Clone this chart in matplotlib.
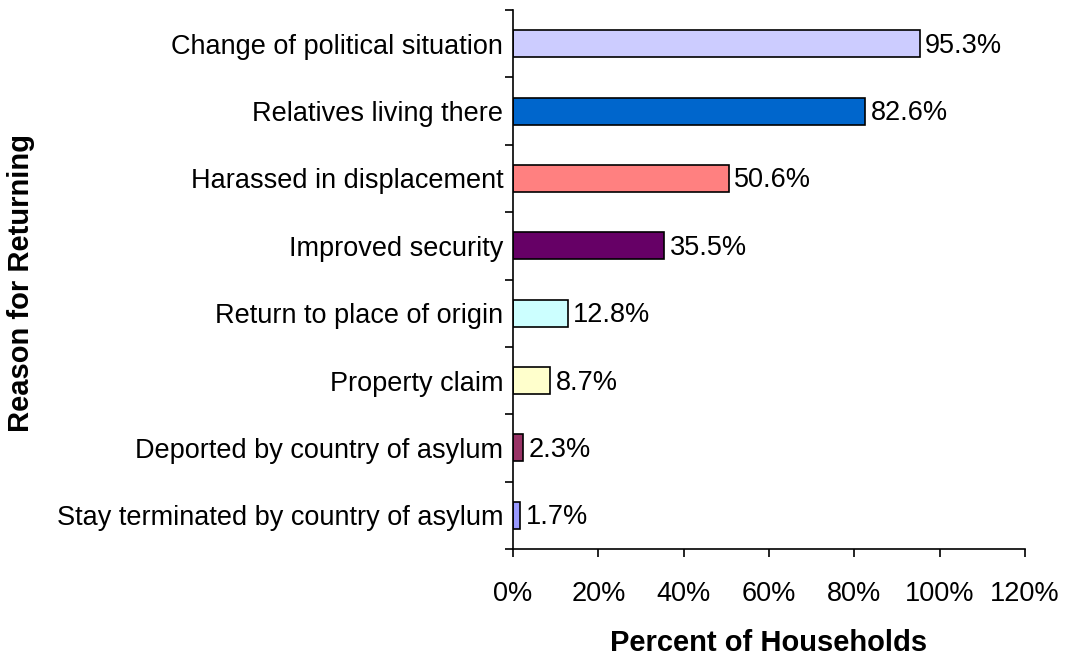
import numpy as np
import matplotlib.pyplot as plt

plt.rcParams['font.family'] = ['Liberation Sans', 'DejaVu Sans']

reasons = [
    "Change of political situation",
    "Relatives living there",
    "Harassed in displacement",
    "Improved security",
    "Return to place of origin",
    "Property claim",
    "Deported by country of asylum",
    "Stay terminated by country of asylum",
]
percents = [95.3, 82.6, 50.6, 35.5, 12.8, 8.7, 2.3, 1.7]
colors = ["#CCCCFF", "#0066CC", "#FF8080", "#660066",
          "#CCFFFF", "#FFFFCC", "#993366", "#9999FF"]
xticks = [0, 20, 40, 60, 80, 100, 120]

fig = plt.figure(figsize=(10.67, 6.59), dpi=100)
ax = fig.add_axes([513 / 1067, 1 - 549 / 659, (1025 - 513) / 1067, (549 - 10) / 659])

y = np.arange(len(reasons))[::-1]
ax.barh(y, percents, height=0.4, color=colors, edgecolor="black", linewidth=1.2)

for yi, v in zip(y, percents):
    ax.text(v + 1.3, yi - 0.03, f"{v:.1f}%", va="center", ha="left", fontsize=19.5)

ax.set_xlim(0, 120)
ax.set_ylim(-0.5, len(reasons) - 0.5)
ax.set_xticks(xticks)
ax.set_xticklabels([f"{t}%" for t in xticks], fontsize=19.5)
ax.set_yticks(y)
ax.set_yticklabels(reasons, fontsize=19.5)
ax.tick_params(axis="y", length=0, pad=7)
ax.set_yticks(np.arange(-0.5, len(reasons)), minor=True)
ax.tick_params(axis="y", which="minor", length=6, width=1.2, direction="out")
ax.tick_params(axis="x", length=6, width=1.2, direction="out", pad=17)

for s in ["top", "right"]:
    ax.spines[s].set_visible(False)
for s in ["left", "bottom"]:
    ax.spines[s].set_linewidth(1.2)

fig.text(769 / 1067, 1 - 643 / 659, "Percent of Households", fontsize=21,
         fontweight="bold", va="center", ha="center")
fig.text(21 / 1067, 1 - 283 / 659, "Reason for Returning", rotation=90, fontsize=21,
         fontweight="bold", va="center", ha="center")

fig.savefig("out.png", dpi=100)
